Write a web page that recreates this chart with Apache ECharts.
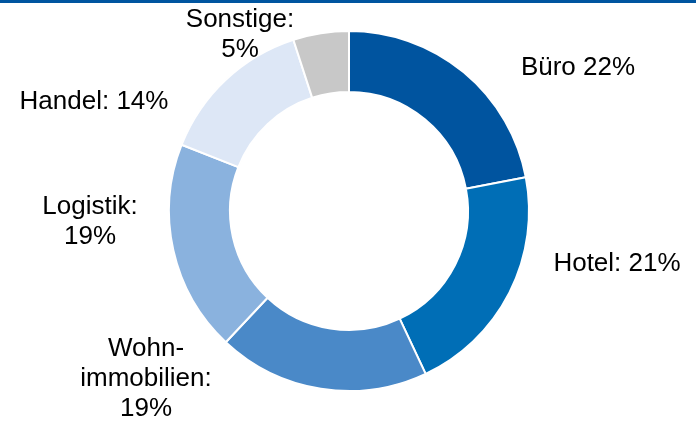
<!DOCTYPE html>
<html>
<head>
<meta charset="utf-8">
<script src="https://cdn.jsdelivr.net/npm/echarts@6/dist/echarts.min.js"></script>
<style>
  html, body { margin: 0; padding: 0; background: #ffffff; }
  #chart { width: 696px; height: 422px; }
</style>
</head>
<body>
<div id="chart"></div>
<script>
// Sectors and their shares (%)
const categories = ['Büro', 'Hotel', 'Wohn-\nimmobilien', 'Logistik', 'Handel', 'Sonstige'];
const shares = [22, 21, 19, 19, 14, 5];
// Text between sector name and share in each label
const separators = [' ', ': ', ':\n', ':\n', ': ', ':\n'];

// Segment colours
const colors = ['#00549f', '#006eb6', '#4a89c8', '#8ab2de', '#dde7f6', '#c8c8c8'];
// Label anchor points (centre of each text block)
const labelAnchors = [
  [578, 68],
  [617, 264],
  [146, 379],
  [90, 222],
  [94, 102],
  [240, 35]
];

const chart = echarts.init(document.getElementById('chart'), null, { renderer: 'canvas' });

chart.setOption({
  animation: false,
  backgroundColor: '#ffffff',
  graphic: [{
    type: 'rect',
    shape: { x: 0, y: 0, width: 696, height: 3 },
    style: { fill: '#0055a0' },
    silent: true
  }],
  series: [{
    type: 'pie',
    center: [349, 211],
    radius: [119, 180],
    startAngle: 90,
    clockwise: true,
    avoidLabelOverlap: false,
    itemStyle: { borderColor: '#ffffff', borderWidth: 2 },
    label: {
      show: true,
      position: 'outside',
      color: '#000000',
      fontFamily: 'Liberation Sans, Arial, sans-serif',
      fontSize: 26,
      lineHeight: 30,
      align: 'center',
      verticalAlign: 'middle',
      formatter: p => p.name + separators[p.dataIndex] + p.value + '%'
    },
    labelLine: { show: false },
    labelLayout: p => ({
      x: labelAnchors[p.dataIndex][0],
      y: labelAnchors[p.dataIndex][1],
      align: 'center',
      verticalAlign: 'middle'
    }),
    emphasis: { disabled: true },
    data: categories.map((c, i) => ({
      name: c,
      value: shares[i],
      itemStyle: { color: colors[i] }
    }))
  }]
});
</script>
</body>
</html>
